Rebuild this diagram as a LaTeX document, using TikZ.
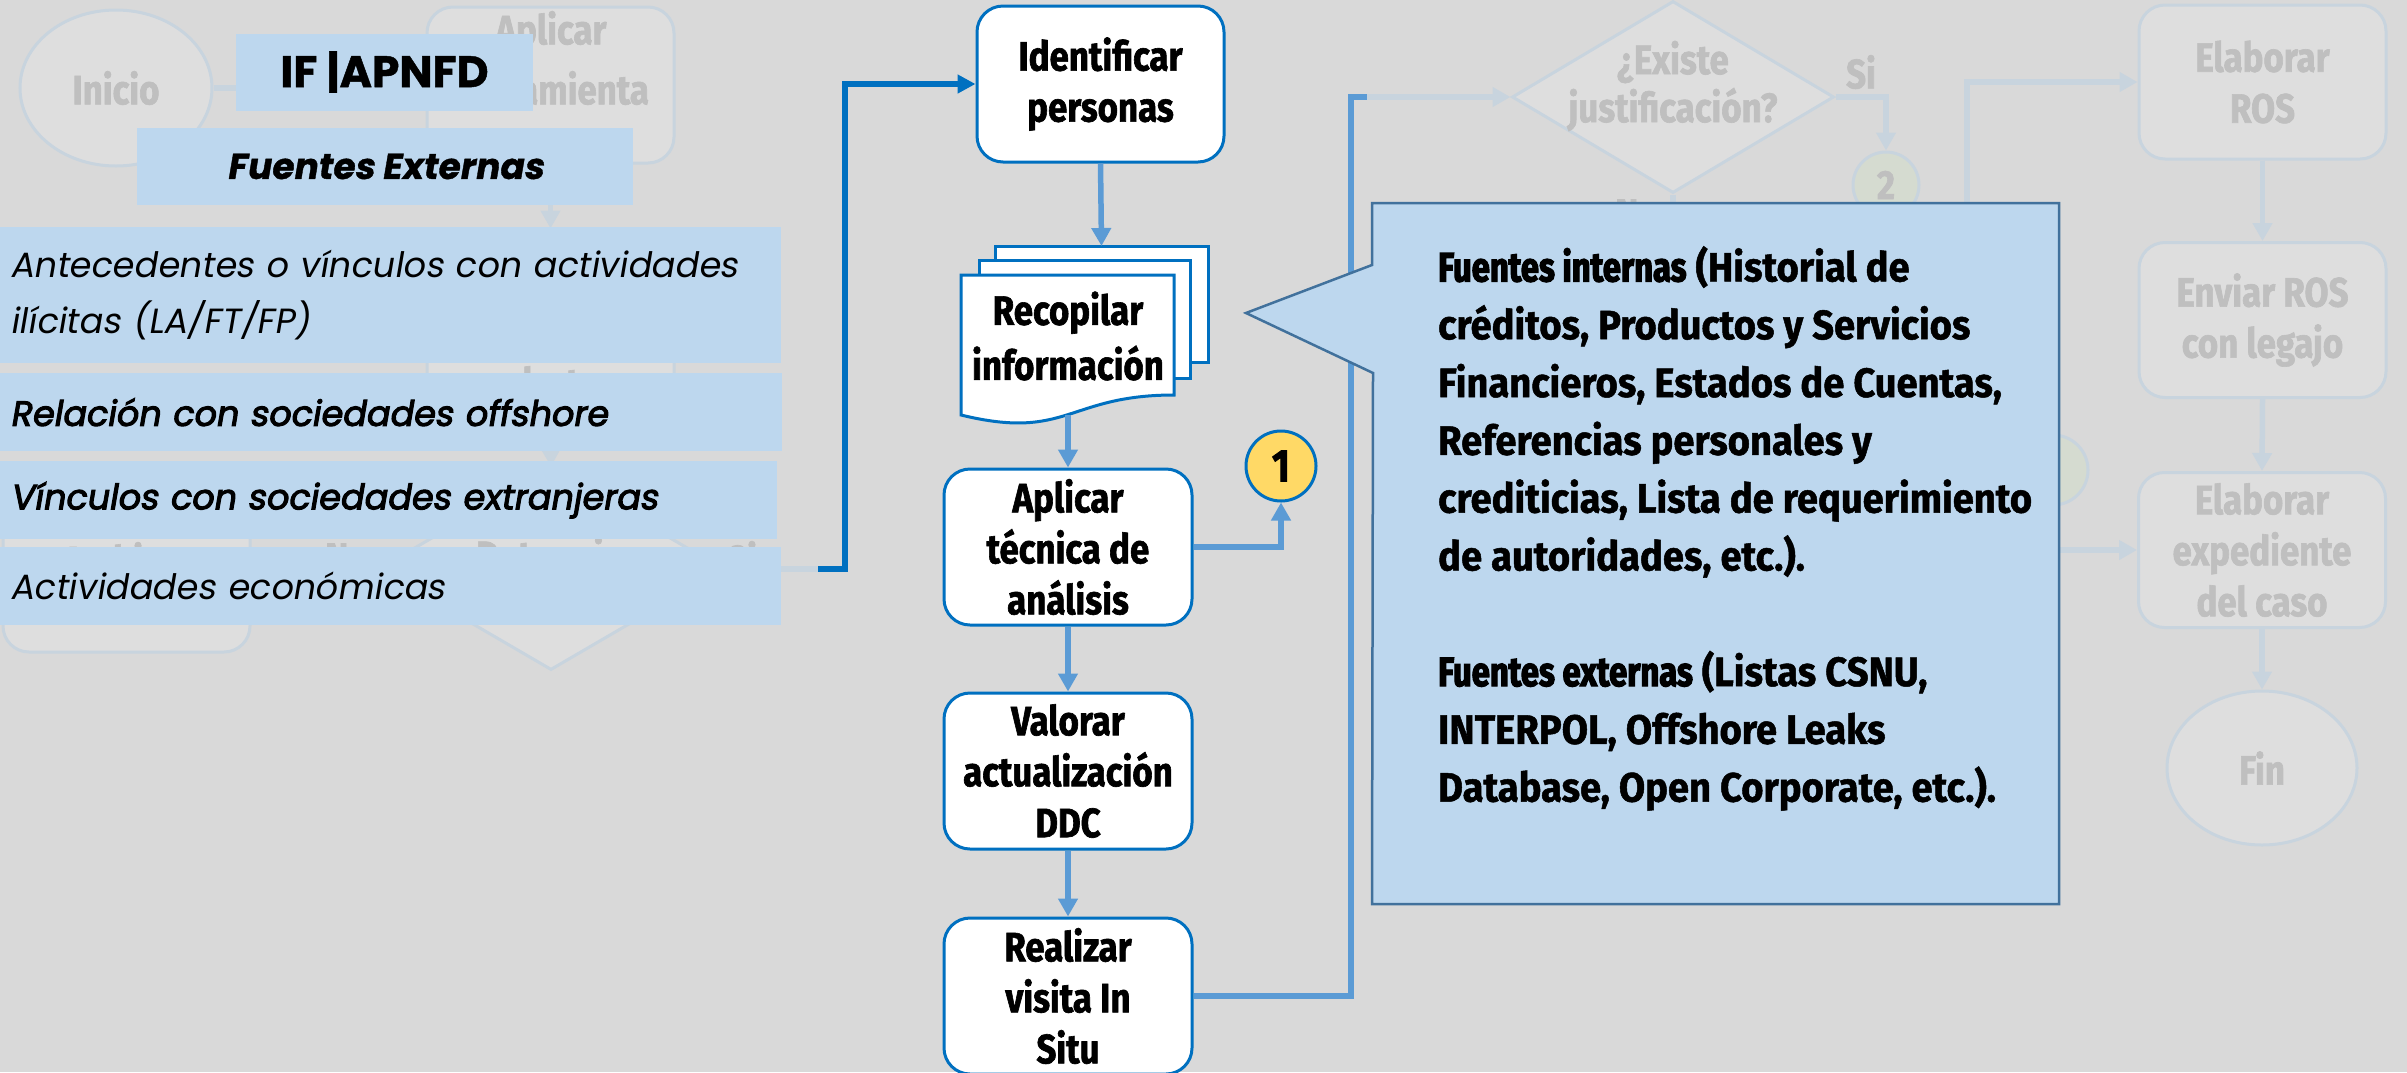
\documentclass[tikz,border=0pt]{standalone}
\usepackage{fontspec}
\usetikzlibrary{arrows.meta,shapes.geometric,calc}
\newfontfamily\condf[FakeStretch=0.85,FakeBold=1.5]{Fira Sans}
\newfontfamily\callf[FakeStretch=0.93,FakeBold=1.2]{Fira Sans}
\newfontfamily\condh[FakeStretch=0.80,FakeBold=3]{Fira Sans}
\newfontfamily\listf[FakeSlant=0.17]{Poppins}
\newfontfamily\listfb[FakeSlant=0.17,FakeBold=3]{Poppins}
\newfontfamily\titf[FakeBold=1]{Poppins}
\newfontfamily\titfi[FakeSlant=0.17,FakeBold=1]{Poppins}
\definecolor{bgc}{HTML}{D9D9D9}
\definecolor{lb}{HTML}{BDD7EE}
\definecolor{dblue}{HTML}{0070C0}
\definecolor{mblue}{HTML}{5B9BD5}
\definecolor{cbord}{HTML}{41719C}
\definecolor{yel}{HTML}{FFD966}
\definecolor{fadeln}{HTML}{C8D4DE}
\definecolor{fadefill}{HTML}{DEDEDE}
\definecolor{fadetxt}{HTML}{BFBFBF}
\definecolor{fadegreen}{HTML}{D5DBD0}
\tikzset{
  boxfont/.style={font=\condf\bfseries\fontsize{41}{51}\selectfont},
  proc/.style={draw=dblue, line width=3pt, fill=white, rounded corners=26pt,
    minimum width=248pt, minimum height=156pt, inner sep=0pt, align=center, boxfont},
  fproc/.style={draw=fadeln, line width=3pt, fill=fadefill, rounded corners=26pt,
    minimum width=247pt, inner sep=0pt, align=center, text=fadetxt, boxfont},
  ftext/.style={text=fadetxt, align=center, inner sep=0pt, boxfont},
  fshape/.style={draw=fadeln, line width=3pt, fill=fadefill, inner sep=0pt, text=fadetxt, boxfont},
  flow/.style={draw=mblue, line width=5.5pt, -{Triangle[length=18pt,width=19pt]}},
  mline/.style={draw=mblue, line width=5.5pt},
  hl/.style={draw=dblue, line width=6pt, -{Triangle[length=18pt,width=18pt]}},
  fade/.style={draw=fadeln, line width=5.5pt},
  fadearr/.style={fade, -{Triangle[length=18pt,width=19pt]}},
  listbox/.style={fill=lb, anchor=north west, inner xsep=10pt, inner ysep=0pt,
    align=left, minimum height=78pt},
  docpage/.style={draw=dblue, line width=3pt, fill=white}
}
\begin{document}
\begin{tikzpicture}[x=1pt,y=-1pt]
\useasboundingbox (0,0) rectangle (2407,1072);
\fill[bgc] (0,0) rectangle (2407,1072);

% ---------- faded background flowchart ----------
\node[fshape, ellipse, minimum width=192pt, minimum height=156pt] (ini) at (116,88) {Inicio};
\node[fproc, minimum height=156pt] (aplbg) at (550.5,85) {};
\node[ftext, font=\condf\bfseries\fontsize{41}{60}\selectfont] (aplbgt) at (551,58) {Aplicar\\herramienta};
\node[fproc, minimum height=200pt] (alertbg) at (550.5,330) {};
\node[ftext] (alertt) at (551,382) {alerta};
\node[fshape, diamond, minimum width=346pt, minimum height=202pt] (det) at (551,569) {};
\node[ftext] (dett) at (551,558) {¿Determina};
\node[ftext] (detno) at (347,558) {No};
\node[ftext] (detsi) at (742,558) {Si};
\node[fproc, minimum height=162pt] (arch) at (126.5,571) {};
\node[ftext] (archt) at (128,559) {Archivar};

\node[fshape, diamond, minimum width=322pt, minimum height=192pt] (d2) at (1673,97) {};
\node[ftext, font=\condf\bfseries\fontsize{41}{48}\selectfont] (d2t) at (1673,86) {¿Existe\\justificación?};
\node[ftext] (d2si) at (1861,72) {Si};
\node[ftext] (d2no) at (1637,214) {No};
\node[fshape, circle, fill=fadegreen, minimum size=66pt] (c2) at (1886,185) {2};
\node[fproc, minimum height=154pt] (ros) at (2262.5,82) {Elaborar\\ROS};
\node[fproc, minimum height=155pt] (env) at (2262.5,320) {Enviar ROS\\con legajo};
\node[fproc, minimum height=155pt] (expd) at (2262,550) {Elaborar\\expediente\\del caso};
\node[fshape, ellipse, minimum width=190pt, minimum height=154pt] (fin) at (2262,768) {Fin};
\node[fshape, circle, fill=fadegreen, minimum size=70pt] (c3) at (2053,470) {};

\draw[fadearr] (ini.east) -- (ini.east -| aplbg.west);
\draw[fadearr] (aplbg.south) -- (alertbg.north);
\draw[fadearr] (alertbg.south) -- (det.north);
\draw[fadearr] (det.west) -- (det.west -| arch.east);
\draw[fadearr] (d2.east) -| (c2.north);
\draw[fade] (d2.south) -- ++(0,60);
\coordinate (rosin) at (1967,300);
\draw[fadearr] (rosin) |- (ros.west);
\draw[fadearr] (ros.south) -- (env.north);
\draw[fadearr] (env.south) -- (expd.north);
\draw[fadearr] (expd.south) -- (fin.north);
\coordinate (expin) at (2000,550);
\draw[fadearr] (expin) -- (expd.west);
\coordinate (hs) at (818,569);
\coordinate (hc) at (845,569);
\draw[fade] (det.east) -- (hs);

% ---------- left blue boxes ----------
\node[fill=lb, minimum width=297pt, minimum height=77pt, inner sep=0pt,
  font=\titf\bfseries\fontsize{44}{50}\selectfont] (ifb) at (384.5,72) {IF |APNFD};
\node[fill=lb, minimum width=496pt, minimum height=77pt, inner sep=0pt,
  font=\titfi\bfseries\fontsize{36}{50}\selectfont] (fext) at (385,166.5) {Fuentes Externas};
\node[listbox, text width=761pt, minimum height=136pt,
  font=\listf\fontsize{35}{56}\selectfont] (l1) at (0,227)
  {Antecedentes o vínculos con actividades\\ilícitas (LA/FT/FP)};
\node[listbox, text width=762pt, font=\listfb\fontsize{35}{56}\selectfont] (l2) at (0,373)
  {Relación con sociedades offshore};
\node[listbox, text width=757pt, font=\listfb\fontsize{35}{56}\selectfont] (l3) at (0,461)
  {Vínculos con sociedades extranjeras};
\node[listbox, text width=761pt, font=\listf\fontsize{35}{56}\selectfont] (l4) at (0,547)
  {Actividades económicas};

% ---------- middle column ----------
\node[proc, minimum width=247pt] (ident) at (1100.5,84) {Identificar\\personas};
\draw[hl] (hs) -- (hc) |- (ident.west);

\draw[docpage] (995,246) rectangle (1208,362);
\draw[docpage] (979,260) rectangle (1190,378);
\draw[docpage] (961,275) -- (1174,275) -- (1174,395)
  .. controls (1067.5,395) and (1067.5,441) .. (961,415) -- cycle;
\coordinate (docTop) at (1101.5,246);
\coordinate (docBot) at (1068,415);
\node[inner sep=0pt, align=center, font=\condf\bfseries\fontsize{41}{55}\selectfont] (rec) at (1068,336)
  {Recopilar\\información};
\draw[flow] (ident.south) -- (docTop);

\node[proc] (apl) at (1068,547) {Aplicar\\técnica de\\análisis};
\node[proc] (val) at (1068,771) {Valorar\\actualización\\DDC};
\node[proc] (rea) at (1068,996) {Realizar\\visita In\\Situ};
\node[draw=dblue, line width=3pt, fill=yel, circle, minimum size=70pt, inner sep=0pt,
  font=\condf\bfseries\fontsize{46}{51}\selectfont] (c1) at (1281,466) {1};

\draw[flow] (docBot) -- (apl.north);
\draw[flow] (apl.south) -- (val.north);
\draw[flow] (val.south) -- (rea.north);
\draw[flow] (apl.east) -| (c1.south);
\coordinate (turn) at (1351,97);
\coordinate (hand) at (1367,97);
\draw[mline] (rea.east) -| (turn) -- (hand);
\draw[fadearr] (hand) -- (d2.west);

% ---------- callout ----------
\draw[draw=cbord, line width=2.5pt, fill=lb] (1372,203) -- (2059,203) -- (2059,904)
  -- (1372,904) -- (1373,373) -- (1246,313) -- (1372,265) -- cycle;
\node[anchor=north west, inner sep=0pt, align=left,
  font=\callf\bfseries\fontsize{41}{57.8}\selectfont] (ctext) at (1438,246)
  {{\condh\bfseries Fuentes internas} (Historial de\\
   créditos, Productos y Servicios\\
   Financieros, Estados de Cuentas,\\
   Referencias personales y\\
   crediticias, Lista de requerimiento\\
   de autoridades, etc.).\\[57.8pt]
   {\condh\bfseries Fuentes externas} (Listas CSNU,\\
   INTERPOL, Offshore Leaks\\
   Database, Open Corporate, etc.).};
\end{tikzpicture}
\end{document}
